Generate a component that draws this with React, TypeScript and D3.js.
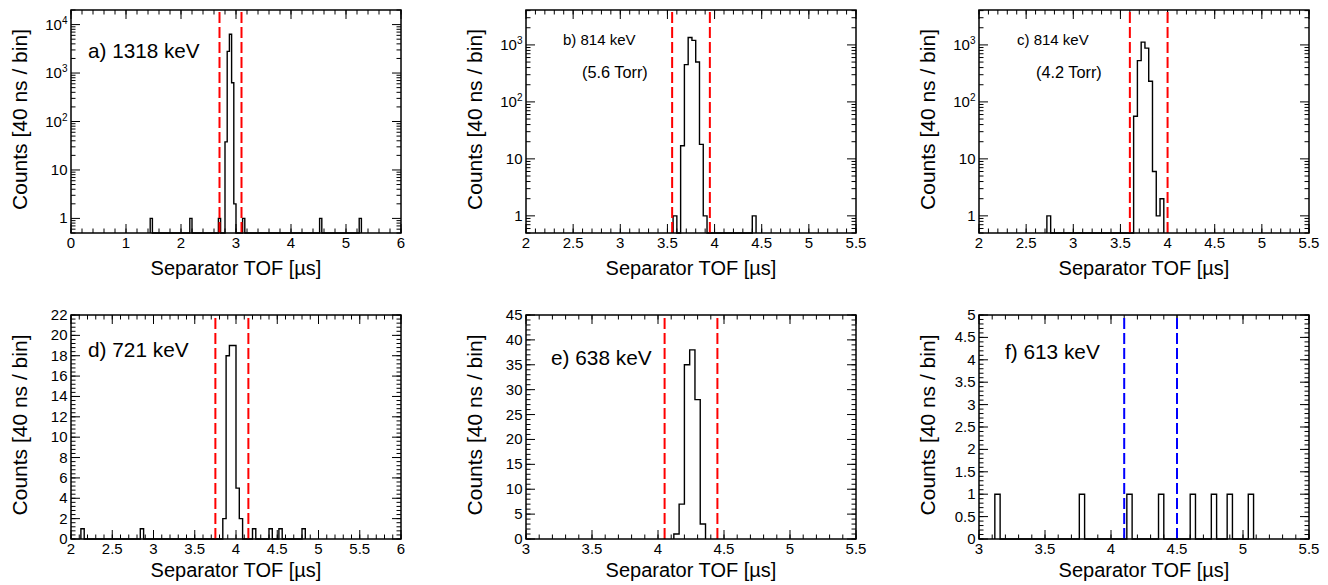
import React from "react";
import * as d3 from "d3";

const FONT = "'Liberation Sans', Arial, Helvetica, sans-serif";

// ---- Data (bin low edges in µs, 40 ns bins) ----
const binsA = [1.44, 2.16, 2.68, 2.8, 2.84, 2.88, 2.92, 2.96, 3.12, 4.52, 5.24];
const countsA = [1, 1, 1, 38, 2800, 6300, 630, 2, 1, 1, 1];
const cutsA = [2.7, 3.1];

const binsB = [3.56, 3.64, 3.68, 3.72, 3.76, 3.8, 3.84, 3.88, 4.4];
const countsB = [1, 17, 450, 1350, 1200, 500, 18, 1, 1];
const cutsB = [3.55, 3.95];

const binsC = [2.72, 3.64, 3.68, 3.72, 3.76, 3.8, 3.84, 3.88, 3.92];
const countsC = [1, 56, 530, 1120, 880, 230, 6, 1, 2];
const cutsC = [3.6, 4.0];

const binsD = [2.12, 2.84, 3.84, 3.88, 3.92, 3.96, 4.0, 4.04, 4.2, 4.4, 4.52, 4.8];
const countsD = [1, 1, 2, 18, 19, 19, 5, 2, 1, 1, 1, 1];
const cutsD = [3.75, 4.15];

const binsE = [4.12, 4.16, 4.2, 4.24, 4.28, 4.32];
const countsE = [1, 7, 35, 38, 28, 3];
const cutsE = [4.05, 4.45];

const binsF = [3.12, 3.76, 4.12, 4.36, 4.6, 4.76, 4.88, 5.04];
const countsF = [1, 1, 1, 1, 1, 1, 1, 1];
const cutsF = [4.1, 4.5];

const BIN_WIDTH = 0.04;

// ---- Tick labels ----
const xTicksA = [0, 1, 2, 3, 4, 5, 6];
const xTicksBC = [2, 2.5, 3, 3.5, 4, 4.5, 5, 5.5];
const xTicksD = [2, 2.5, 3, 3.5, 4, 4.5, 5, 5.5, 6];
const xTicksEF = [3, 3.5, 4, 4.5, 5, 5.5];
const yTicksLogA = [1, 10, 100, 1000, 10000];
const yTicksLogBC = [1, 10, 100, 1000];
const yTicksD = [0, 2, 4, 6, 8, 10, 12, 14, 16, 18, 20, 22];
const yTicksE = [0, 5, 10, 15, 20, 25, 30, 35, 40, 45];
const yTicksF = [0, 0.5, 1, 1.5, 2, 2.5, 3, 3.5, 4, 4.5, 5];

const panelLabels = ["a) 1318 keV", "b) 814 keV", "c) 814 keV", "d) 721 keV", "e) 638 keV", "f) 613 keV"];
const subLabels = ["", "(5.6 Torr)", "(4.2 Torr)", "", "", ""];
const xTitle = "Separator TOF [\u00b5s]";
const yTitle = "Counts [40 ns / bin]";

const COLS = [71, 526, 979];
const W = 330;
const ROWS = [
  { top: 10, bottom: 233 },
  { top: 315, bottom: 539 },
];

type PanelCfg = {
  bins: number[];
  counts: number[];
  cuts: number[];
  cutColor: string;
  xDomain: [number, number];
  xTicks: number[];
  xMinor: number;
  log: boolean;
  yDomain: [number, number];
  yTicks: number[];
  yMinor: number;
  label: string;
  sub: string;
  labelSize: number;
  labelPos: [number, number];
  subPos?: [number, number];
  col: number;
  row: number;
};

const panels: PanelCfg[] = [
  { bins: binsA, counts: countsA, cuts: cutsA, cutColor: "#ff0000", xDomain: [0, 6], xTicks: xTicksA, xMinor: 0.2, log: true, yDomain: [0.5, 20000], yTicks: yTicksLogA, yMinor: 0, label: panelLabels[0], sub: subLabels[0], labelSize: 20.7, labelPos: [88, 58], col: 0, row: 0 },
  { bins: binsB, counts: countsB, cuts: cutsB, cutColor: "#ff0000", xDomain: [2, 5.5], xTicks: xTicksBC, xMinor: 0.1, log: true, yDomain: [0.5, 4100], yTicks: yTicksLogBC, yMinor: 0, label: panelLabels[1], sub: subLabels[1], labelSize: 15, labelPos: [563, 45], subPos: [582, 78], col: 1, row: 0 },
  { bins: binsC, counts: countsC, cuts: cutsC, cutColor: "#ff0000", xDomain: [2, 5.5], xTicks: xTicksBC, xMinor: 0.1, log: true, yDomain: [0.5, 4100], yTicks: yTicksLogBC, yMinor: 0, label: panelLabels[2], sub: subLabels[2], labelSize: 15, labelPos: [1017, 45], subPos: [1036, 78], col: 2, row: 0 },
  { bins: binsD, counts: countsD, cuts: cutsD, cutColor: "#ff0000", xDomain: [2, 6], xTicks: xTicksD, xMinor: 0.1, log: false, yDomain: [0, 22], yTicks: yTicksD, yMinor: 0.4, label: panelLabels[3], sub: subLabels[3], labelSize: 20.8, labelPos: [88, 357], col: 0, row: 1 },
  { bins: binsE, counts: countsE, cuts: cutsE, cutColor: "#ff0000", xDomain: [3, 5.5], xTicks: xTicksEF, xMinor: 0.1, log: false, yDomain: [0, 45], yTicks: yTicksE, yMinor: 1, label: panelLabels[4], sub: subLabels[4], labelSize: 20.8, labelPos: [551, 365], col: 1, row: 1 },
  { bins: binsF, counts: countsF, cuts: cutsF, cutColor: "#0000ff", xDomain: [3, 5.5], xTicks: xTicksEF, xMinor: 0.1, log: false, yDomain: [0, 5], yTicks: yTicksF, yMinor: 0.1, label: panelLabels[5], sub: subLabels[5], labelSize: 20.8, labelPos: [1005, 359], col: 2, row: 1 },
];

function fmt(v: number) {
  return String(Math.round(v * 100) / 100);
}

function Panel({ p }: { p: PanelCfg }) {
  const left = COLS[p.col];
  const right = left + W;
  const { top, bottom } = ROWS[p.row];
  const x = d3.scaleLinear().domain(p.xDomain).range([left, right]);
  const y = p.log
    ? d3.scaleLog().domain(p.yDomain).range([bottom, top])
    : d3.scaleLinear().domain(p.yDomain).range([bottom, top]);

  // histogram outline
  const base = bottom;
  let path = "";
  let prevEnd: number | null = null;
  p.bins.forEach((b, i) => {
    const x0 = x(b);
    const x1 = x(b + BIN_WIDTH);
    const yy = Math.max(top, Math.min(bottom, y(p.counts[i])));
    if (prevEnd === null) {
      path += `M${x0},${base}L${x0},${yy}`;
    } else if (Math.abs(b - prevEnd) > 1e-6) {
      path += `L${x(prevEnd)},${base}L${x0},${base}L${x0},${yy}`;
    } else {
      path += `L${x0},${yy}`;
    }
    path += `L${x1},${yy}`;
    prevEnd = b + BIN_WIDTH;
  });
  if (prevEnd !== null) path += `L${x(prevEnd)},${base}`;

  // x minor ticks
  const xMinorVals: number[] = [];
  const nx = Math.round((p.xDomain[1] - p.xDomain[0]) / p.xMinor);
  for (let i = 0; i <= nx; i++) xMinorVals.push(p.xDomain[0] + i * p.xMinor);

  // y minor ticks
  const yMinorVals: number[] = [];
  if (p.log) {
    for (let e = -1; e <= 5; e++) {
      for (let m = 2; m <= 9; m++) {
        const v = m * Math.pow(10, e);
        if (v >= p.yDomain[0] && v <= p.yDomain[1]) yMinorVals.push(v);
      }
    }
  } else {
    const ny = Math.round((p.yDomain[1] - p.yDomain[0]) / p.yMinor);
    for (let i = 0; i <= ny; i++) yMinorVals.push(p.yDomain[0] + i * p.yMinor);
  }

  const majLen = 9;
  const minLen = 4.5;
  const yMajLen = 9;
  const yMinLen = 4.5;

  const logLabel = (v: number) => {
    const e = Math.round(Math.log10(v));
    if (e === 0) return <tspan>1</tspan>;
    if (e === 1) return <tspan>10</tspan>;
    return (
      <>
        <tspan>10</tspan>
        <tspan dy={-6} fontSize={10}>{String(e)}</tspan>
      </>
    );
  };

  return (
    <g>
      {xMinorVals.map((v, i) => (
        <g key={"xm" + i} stroke="#000" strokeWidth={1}>
          <line x1={x(v)} x2={x(v)} y1={bottom} y2={bottom - minLen} />
          <line x1={x(v)} x2={x(v)} y1={top} y2={top + minLen} />
        </g>
      ))}
      {p.xTicks.map((v, i) => (
        <g key={"xM" + i} stroke="#000" strokeWidth={1}>
          <line x1={x(v)} x2={x(v)} y1={bottom} y2={bottom - majLen} />
          <line x1={x(v)} x2={x(v)} y1={top} y2={top + majLen} />
        </g>
      ))}
      {yMinorVals.map((v, i) => (
        <g key={"ym" + i} stroke="#000" strokeWidth={1}>
          <line x1={left} x2={left + yMinLen} y1={y(v)} y2={y(v)} />
          <line x1={right} x2={right - yMinLen} y1={y(v)} y2={y(v)} />
        </g>
      ))}
      {p.yTicks.map((v, i) => (
        <g key={"yM" + i} stroke="#000" strokeWidth={1}>
          <line x1={left} x2={left + yMajLen} y1={y(v)} y2={y(v)} />
          <line x1={right} x2={right - yMajLen} y1={y(v)} y2={y(v)} />
        </g>
      ))}

      <path d={path} fill="none" stroke="#000" strokeWidth={1.4} />

      {p.cuts.map((c, i) => (
        <line key={"cut" + i} x1={x(c)} x2={x(c)} y1={bottom} y2={top} stroke={p.cutColor} strokeWidth={2} strokeDasharray="11,4" />
      ))}

      <rect x={left} y={top} width={W} height={bottom - top} fill="none" stroke="#000" strokeWidth={1.5} />

      {p.xTicks.map((v, i) => (
        <text key={"xl" + i} x={x(v)} y={bottom + 15} textAnchor="middle" fontSize={15} fontFamily={FONT} fill="#000">
          {fmt(v)}
        </text>
      ))}
      {p.yTicks.map((v, i) => (
        <text key={"yl" + i} x={left - 3.5} y={y(v) + 5} textAnchor="end" fontSize={15} fontFamily={FONT} fill="#000">
          {p.log ? logLabel(v) : fmt(v)}
        </text>
      ))}

      <text x={(left + right) / 2} y={p.row === 0 ? 274.5 : 576.5} textAnchor="middle" fontSize={20} fontFamily={FONT} fill="#000">
        {xTitle}
      </text>
      <text
        transform={`translate(${left - 44},${(top + bottom) / 2 - 2}) rotate(-90)`}
        textAnchor="middle"
        fontSize={21}
        fontFamily={FONT}
        fill="#000"
      >
        {yTitle}
      </text>

      <text x={p.labelPos[0]} y={p.labelPos[1]} fontSize={p.labelSize} fontFamily={FONT} fill="#000">
        {p.label}
      </text>
      {p.subPos && (
        <text x={p.subPos[0]} y={p.subPos[1]} fontSize={16.3} fontFamily={FONT} fill="#000">
          {p.sub}
        </text>
      )}
    </g>
  );
}

export default function App() {
  return (
    <svg
      width={1328}
      height={585}
      viewBox="0 0 1328 585"
      style={{ position: "absolute", left: 0, top: 0, background: "#fff" }}
    >
      <rect x={0} y={0} width={1328} height={585} fill="#fff" />
      {panels.map((p, i) => (
        <Panel key={i} p={p} />
      ))}
    </svg>
  );
}
